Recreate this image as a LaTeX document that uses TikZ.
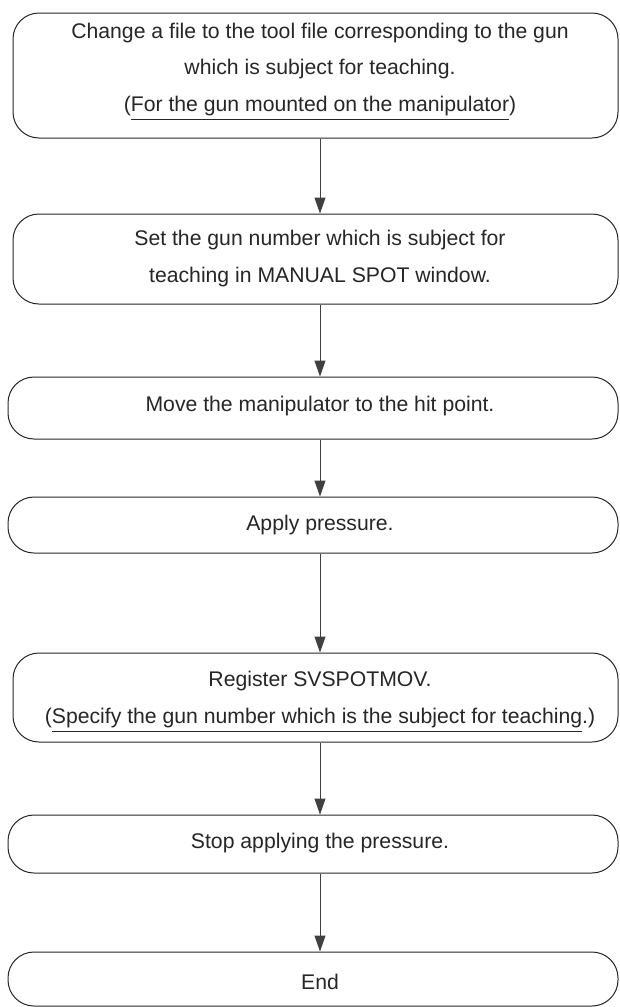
\documentclass[tikz,border=0pt]{standalone}
\usepackage{fontspec}
\setmainfont{Liberation Sans}
\usetikzlibrary{arrows.meta, positioning}
\newcommand{\undl}[1]{\setbox0\hbox{#1}\rlap{\rule[-8.5pt]{\wd0}{0.9pt}}\box0}

\begin{document}
\begin{tikzpicture}[
    x=1pt, y=-1pt,
    stepbox/.style={draw=black!85, line width=1pt, rounded corners=26pt, inner sep=0pt},
    steptext/.style={align=center, text=black!85, inner sep=0pt, font=\fontsize{21.2}{36.8}\selectfont},
    flow/.style={draw=black!75, line width=1pt, -{Triangle[length=16pt, width=11pt]}}
]
    \useasboundingbox (0,0) rectangle (619,1007);

    % boxes
    \node[stepbox, minimum width=605pt, minimum height=125pt] (b1) at (315.5,75.5) {};
    \node[stepbox, minimum width=605pt, minimum height=90pt] (b2) at (315.5,259) {};
    \node[stepbox, minimum width=610pt, minimum height=62pt] (b3) at (313,408) {};
    \node[stepbox, minimum width=610pt, minimum height=56pt] (b4) at (313,525) {};
    \node[stepbox, minimum width=605pt, minimum height=89pt] (b5) at (315.5,697.5) {};
    \node[stepbox, minimum width=610pt, minimum height=58pt] (b6) at (313,844) {};
    \node[stepbox, minimum width=610pt, minimum height=54pt] (b7) at (313,979) {};

    % texts
    \node[steptext] (t1) at (320,71.5) {Change a file to the tool file corresponding to the gun\\
        which is subject for teaching.\\ (\undl{For the gun mounted on the manipulator})};
    \node[steptext] (t2) at (320,258.5) {Set the gun number which is subject for\\
        teaching in MANUAL SPOT window.};
    \node[steptext] (t3) at (320,406) {Move the manipulator to the hit point.};
    \node[steptext] (t4) at (320,525) {Apply pressure.};
    \node[steptext] (t5) at (320,701.5) {Register SVSPOTMOV.\\
        (\undl{Specify the gun number which is the subject for teaching}.)};
    \node[steptext] (t6) at (320,843) {Stop applying the pressure.};
    \node[steptext] (t7) at (320,982) {End};

    % arrows
    \draw[flow] (b1.south -| t1.center) -- (b2.north -| t1.center);
    \draw[flow] (b2.south -| t2.center) -- (b3.north -| t2.center);
    \draw[flow] (b3.south -| t3.center) -- (b4.north -| t3.center);
    \draw[flow] (b4.south -| t4.center) -- (b5.north -| t4.center);
    \draw[flow] (b5.south -| t5.center) -- (b6.north -| t5.center);
    \draw[flow] (b6.south -| t6.center) -- (b7.north -| t6.center);
\end{tikzpicture}
\end{document}
